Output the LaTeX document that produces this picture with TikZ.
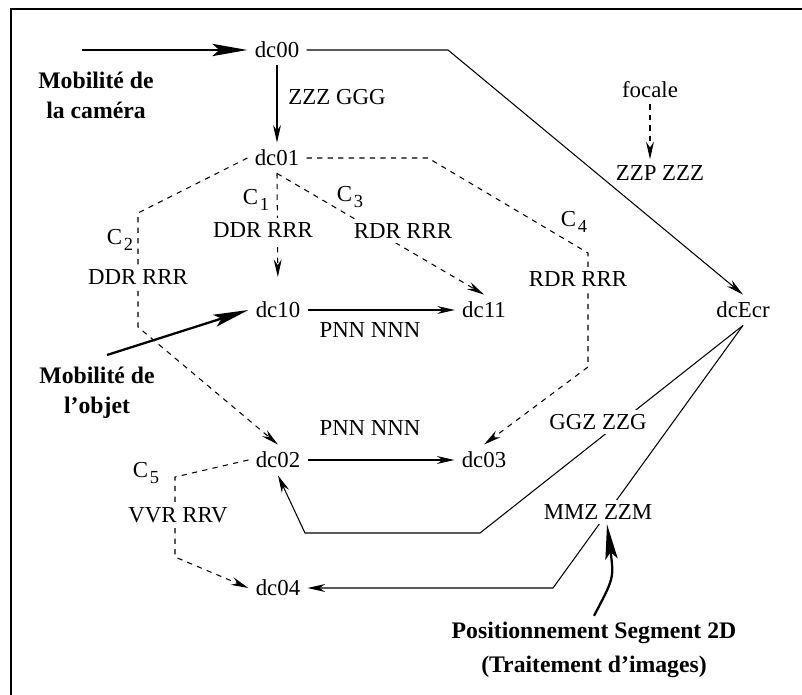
\documentclass[tikz,border=0pt]{standalone}
\usepackage{fontspec}
\setmainfont{Liberation Serif}[Ligatures=TeX]
\newfontfamily\tnr{Liberation Serif}[Ligatures=TeX]
\usetikzlibrary{arrows.meta,positioning,calc}
\newcommand{\csub}[1]{C\kern1pt\raisebox{-0.6ex}{\fontsize{10.5}{12}\selectfont #1}}

\begin{document}
\begin{tikzpicture}[x=0.02cm, y=-0.02cm,
  font=\tnr\fontsize{13}{15}\selectfont,
  dc/.style={inner sep=4pt},
  lab/.style={fill=white, inner sep=2.5pt},
  flow/.style={line width=0.6pt, -{Stealth[length=10pt,width=4.5pt]}},
  cond/.style={flow, dashed},
  mob/.style={line width=1.3pt, -{Stealth[length=20pt,width=7pt,inset=4pt]}},
  bold/.style={font=\tnr\fontsize{13.5}{17}\selectfont\bfseries, align=center}
]
  \useasboundingbox (0,0) rectangle (802,695);

  % Frame
  \draw[line width=1.1pt] (11,695) -- (11,9) -- (802,9);

  % Nodes
  \node[dc] (dc00) at (277,50) {dc00};
  \node[dc] (dc01) at (277,158) {dc01};
  \node[dc] (dc10) at (278,310) {dc10};
  \node[dc] (dc11) at (484,310) {dc11};
  \node[dc] (dc02) at (278,460) {dc02};
  \node[dc] (dc03) at (484,460) {dc03};
  \node[dc] (dc04) at (278,588) {dc04};
  \node[dc] (dcEcr) at (743,310) {dcEcr};

  % Corners
  \coordinate (camin) at (82,50);
  \coordinate (objin) at (107,355);
  \coordinate (e1) at (448,50);
  \coordinate (l1) at (138,213);
  \coordinate (l2) at (138,327);
  \coordinate (r1) at (428,158);
  \coordinate (r2) at (588,253);
  \coordinate (r3) at (588,367);
  \coordinate (v1) at (175,477);
  \coordinate (v2) at (175,557);
  \coordinate (g1) at (480,533);
  \coordinate (g2) at (305,533);
  \coordinate (m1) at (553,588);

  % Solid edges
  \draw[flow] (dc00) -- (dc01);
  \draw[flow] (dc00.east) -- (e1) -- (dcEcr.north);
  \draw[flow] (dc10) -- (dc11);
  \draw[flow] (dc02) -- (dc03);
  \draw[flow] (dcEcr.south) -- (g1) -- (g2) -- (dc02.south);
  \draw[flow] (dcEcr.south) -- (m1) -- (dc04.east);

  % Dashed edges
  \draw[cond, shorten >=10pt] (dc01.south) -- (dc10.north);
  \draw[cond] (dc01.south) -- (dc11.north);
  \draw[cond] (dc01.west) -- (l1) -- (l2) -- (dc02.north);
  \draw[cond] (dc01.east) -- (r1) -- (r2) -- (r3) -- (dc03.north);
  \draw[cond] (dc02.west) -- (v1) -- (v2) -- (dc04.west);

  % Entries
  \draw[mob] (camin) -- (dc00.west);
  \draw[mob] (objin) -- (dc10.west);

  % Labels
  \node (zzz) at (337,97) {ZZZ GGG};
  \node (c1) at (256,200) {\csub{1}};
  \node[lab] (ddr1) at (263,230) {DDR RRR};
  \node (c3) at (350,197) {\csub{3}};
  \node[lab] (rdr1) at (403,231) {RDR RRR};
  \node (c2) at (120,240) {\csub{2}};
  \node[lab] (ddr2) at (138,277) {DDR RRR};
  \node (c4) at (574,222) {\csub{4}};
  \node[lab] (rdr2) at (578,279) {RDR RRR};
  \node (pnn1) at (370,330) {PNN NNN};
  \node (pnn2) at (370,428) {PNN NNN};
  \node (c5) at (146,473) {\csub{5}};
  \node[lab] (vvr) at (178,515) {VVR RRV};
  \node[lab] (ggz) at (598,422) {GGZ ZZG};
  \node[lab] (mmz) at (598,512) {MMZ ZZM};
  \node (focale) at (650,90) {focale};
  \node (zzp) at (660,173) {ZZP ZZZ};
  \draw[cond] (focale.south) -- (focale.south |- zzp.north);

  \node[bold] (camera) at (96,95) {Mobilité de\\la caméra};
  \node[bold] (objet) at (97,393) {Mobilité de\\l'objet};
  \node[bold, font=\tnr\fontsize{13.5}{19.5}\selectfont\bfseries] (posit) at (594,650)
    {Positionnement Segment 2D\\(Traitement d'images)};
  \draw[mob] (posit.north) .. controls (614,578) .. ([xshift=0.18cm]mmz.south);
\end{tikzpicture}
\end{document}
